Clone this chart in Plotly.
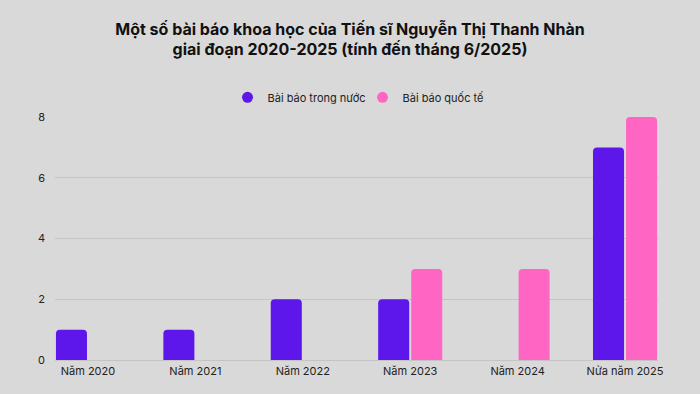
import plotly.graph_objects as go

categories = ["Năm 2020", "Năm 2021", "Năm 2022", "Năm 2023", "Năm 2024", "Nửa năm 2025"]
domestic = [1, 1, 2, 2, 0, 7]
international = [0, 0, 0, 3, 3, 8]
y_ticks = [0, 2, 4, 6, 8]

PURPLE = "#5e17eb"
PINK = "#ff66c4"
BG = "#d9d9d9"
FONT = "Inter, Roboto, 'Open Sans', sans-serif"

fig = go.Figure()
fig.add_trace(go.Bar(x=categories, y=domestic, name="Bài báo trong nước",
                     marker=dict(color=PURPLE, line=dict(width=0)), showlegend=False))
fig.add_trace(go.Bar(x=categories, y=international, name="Bài báo quốc tế",
                     marker=dict(color=PINK, line=dict(width=0)), showlegend=False))
# legend entries with circle markers
fig.add_trace(go.Scatter(x=[None], y=[None], mode="markers", name="Bài báo trong nước",
                         marker=dict(symbol="circle", size=11, color=PURPLE)))
fig.add_trace(go.Scatter(x=[None], y=[None], mode="markers", name="Bài báo quốc tế",
                         marker=dict(symbol="circle", size=11, color=PINK)))

fig.update_layout(
    width=700, height=394,
    paper_bgcolor=BG, plot_bgcolor=BG,
    margin=dict(l=55, r=42, t=117, b=34),
    barmode="group", bargap=0.385, bargroupgap=0.06, barcornerradius=4,
    font=dict(family=FONT, size=11, color="#222222"),
    title=dict(
        text="<b>Một số bài báo khoa học của Tiến sĩ Nguyễn Thị Thanh Nhàn<br>giai đoạn 2020-2025 (tính đến tháng 6/2025)</b>",
        x=0.5, xanchor="center", y=0.912, yanchor="top",
        font=dict(family=FONT, size=16, color="#111111"),
    ),
    legend=dict(orientation="h", x=0.51, xanchor="center", y=1.081, yanchor="middle",
                font=dict(family=FONT, size=11, color="#222222"),
                bgcolor="rgba(0,0,0,0)", itemwidth=30, traceorder="normal",
                entrywidth=90, entrywidthmode="pixels"),
    showlegend=True,
)
fig.update_xaxes(type="category", range=[-0.307, 5.307], showgrid=False,
                 showline=False, zeroline=False, ticks="", ticklabelstandoff=3,
                 tickfont=dict(family=FONT, size=11, color="#222222"), fixedrange=True)
fig.update_yaxes(range=[0, 8], tickvals=y_ticks, showgrid=True, gridcolor="#c4c4c4",
                 gridwidth=1, zeroline=True, zerolinecolor="#c4c4c4", zerolinewidth=1,
                 showline=False, ticks="", ticklabelstandoff=9,
                 tickfont=dict(family=FONT, size=11, color="#222222"), fixedrange=True)

fig.write_html("out.html", config={"displayModeBar": False},
               post_script="document.body.style.margin='0';")
